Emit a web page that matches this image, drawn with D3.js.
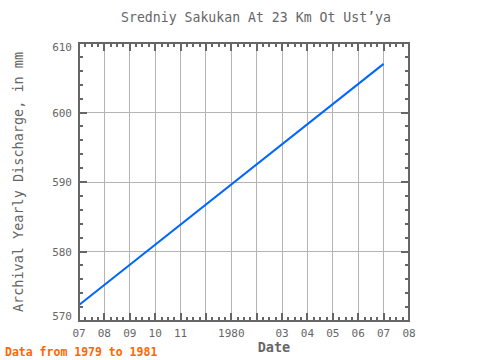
<!DOCTYPE html>
<html lang="en">
<head>
    <meta charset="UTF-8">
    <title>Sredniy Sakukan At 23 Km Ot Ust'ya</title>
    <style>
        body { margin: 0; padding: 0; background: white; }
        text { font-family: "DejaVu Sans Mono", "Liberation Mono", monospace; fill: #666; }
        .grid line { stroke: #b4b4b4; stroke-width: 1; shape-rendering: crispEdges; }
        .tick-mark { stroke: #666; stroke-width: 2; shape-rendering: crispEdges; }
        .frame { fill: none; stroke: #666; stroke-width: 2; shape-rendering: crispEdges; }
        .line { fill: none; stroke: #0066ff; stroke-width: 2; }
    </style>
</head>
<body>
    <div id="chart"></div>

    <script src="https://d3js.org/d3.v7.min.js"></script>
    <script>
        // data
        const monthLabels = ["07","08","09","10","11","","1980","","03","04","05","06","07","08"];
        const pointMonths = [0, 12];          // month index on the axis (07 .. 07)
        const discharge = [572.3, 607.0];
        const yTicks = [570, 580, 590, 600, 610];

        const width = 480, height = 360;
        const margin = { top: 43, right: 71, bottom: 39, left: 79 };
        const w = width - margin.left - margin.right,
              h = height - margin.top - margin.bottom;

        const svg = d3.select("#chart").append("svg")
            .attr("width", width)
            .attr("height", height);

        const g = svg.append("g")
            .attr("transform", `translate(${margin.left},${margin.top})`);

        const x = d3.scaleLinear().domain([0, monthLabels.length - 1]).range([0, w]);
        const y = d3.scaleLinear().domain([570, 610]).range([h, 0]);

        const majorX = d3.range(monthLabels.length);
        const minorX = d3.range(0, monthLabels.length - 1, 0.25).filter(d => d % 1 !== 0);
        const minorY = d3.range(570, 610, 2).filter(d => d % 10 !== 0);

        // grid
        const grid = g.append("g").attr("class", "grid");
        grid.selectAll(".vx").data(majorX.slice(1, -1)).enter().append("line")
            .attr("x1", d => x(d)).attr("x2", d => x(d))
            .attr("y1", 0).attr("y2", h);
        grid.selectAll(".hy").data(yTicks.slice(1, -1)).enter().append("line")
            .attr("x1", 0).attr("x2", w)
            .attr("y1", d => y(d)).attr("y2", d => y(d));

        // ticks pointing inward on all four sides
        const ticks = g.append("g");
        function xTicks(vals, len) {
            vals.forEach(v => {
                ticks.append("line").attr("class", "tick-mark")
                    .attr("x1", x(v)).attr("x2", x(v)).attr("y1", h).attr("y2", h - len);
                ticks.append("line").attr("class", "tick-mark")
                    .attr("x1", x(v)).attr("x2", x(v)).attr("y1", 0).attr("y2", len);
            });
        }
        function yTickMarks(vals, len) {
            vals.forEach(v => {
                ticks.append("line").attr("class", "tick-mark")
                    .attr("x1", 0).attr("x2", len).attr("y1", y(v)).attr("y2", y(v));
                ticks.append("line").attr("class", "tick-mark")
                    .attr("x1", w).attr("x2", w - len).attr("y1", y(v)).attr("y2", y(v));
            });
        }
        xTicks(majorX, 8);
        xTicks(minorX, 4);
        yTickMarks(yTicks, 8);
        yTickMarks(minorY, 4);

        // series
        const line = d3.line()
            .x((d, i) => x(pointMonths[i]))
            .y(d => y(d));
        g.append("path")
            .datum(discharge)
            .attr("class", "line")
            .attr("d", line);

        // frame
        g.append("rect").attr("class", "frame")
            .attr("x", 0).attr("y", 0).attr("width", w).attr("height", h);

        // tick labels
        g.selectAll(".xl").data(monthLabels).enter().append("text")
            .attr("x", (d, i) => x(i))
            .attr("y", h + 16)
            .attr("text-anchor", "middle")
            .style("font-size", "11px")
            .text(d => d);
        // end labels are pulled inside the frame a little
        g.selectAll(".yl").data(yTicks).enter().append("text")
            .attr("x", -7)
            .attr("y", (d, i) => y(d) + 4 + (i === 0 ? -5 : i === yTicks.length - 1 ? 4 : 0))
            .attr("text-anchor", "end")
            .style("font-size", "11px")
            .text(d => d);

        // titles
        svg.append("text")
            .attr("x", 256).attr("y", 22)
            .attr("text-anchor", "middle")
            .style("font-size", "13.2px")
            .text("Sredniy Sakukan At 23 Km Ot Ust\u2019ya");

        svg.append("text")
            .attr("transform", `translate(23,${margin.top + h / 2}) rotate(-90)`)
            .attr("text-anchor", "middle")
            .style("font-size", "13.5px")
            .text("Archival Yearly Discharge, in mm");

        svg.append("text")
            .attr("x", 274).attr("y", 352)
            .attr("text-anchor", "middle")
            .style("font-size", "13.5px")
            .style("font-weight", "bold")
            .text("Date");

        svg.append("text")
            .attr("x", 5).attr("y", 356)
            .style("font-size", "11.5px")
            .style("font-weight", "bold")
            .style("fill", "#ff6600")
            .text("Data from 1979 to 1981");
    </script>
</body>
</html>
